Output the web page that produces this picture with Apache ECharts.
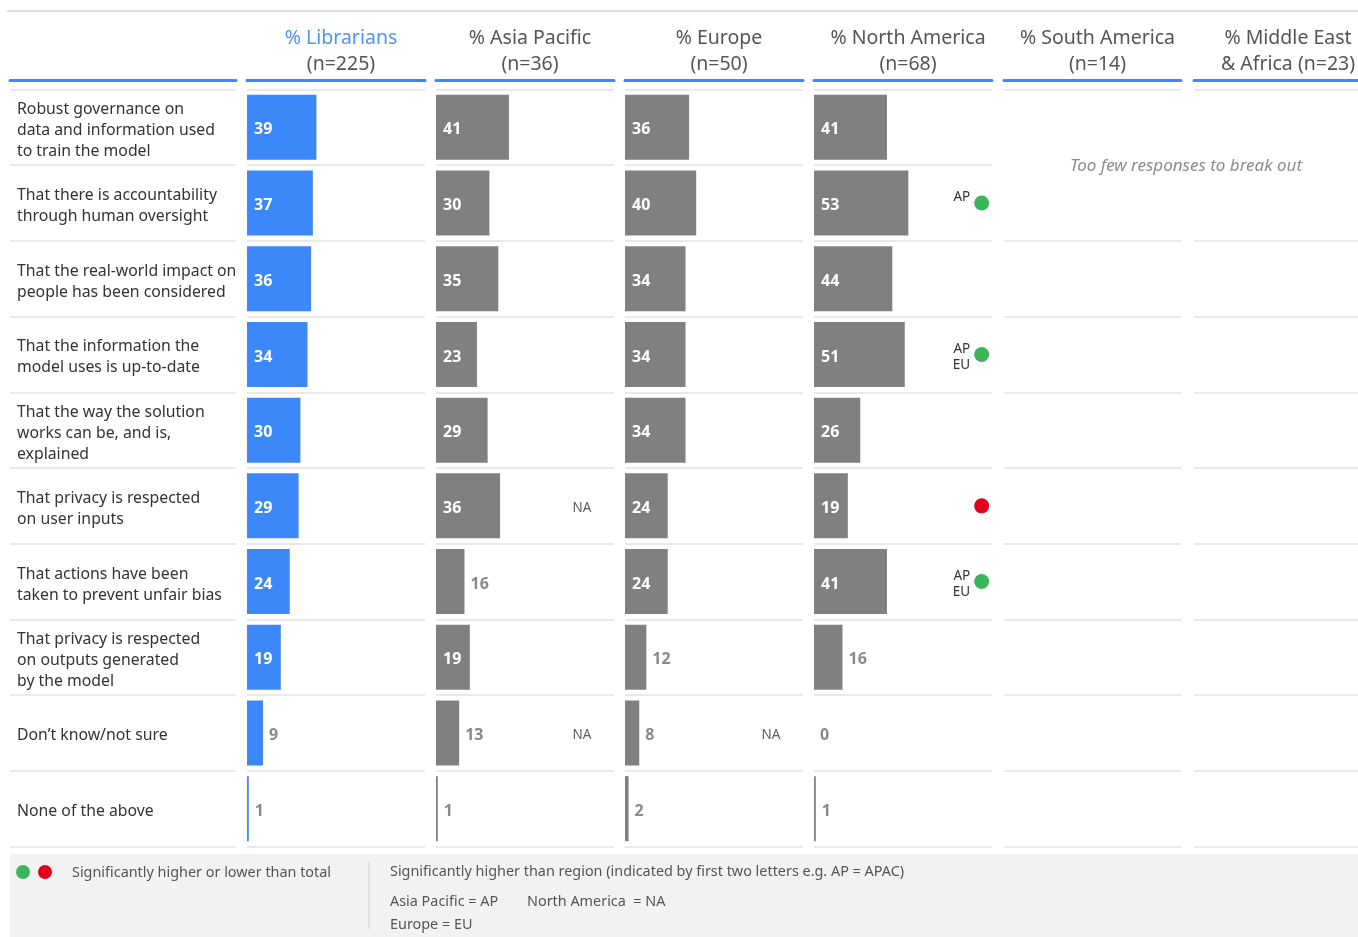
<!DOCTYPE html>
<html>
<head>
<meta charset="utf-8">
<script src="https://cdn.jsdelivr.net/npm/echarts@6/dist/echarts.min.js"></script>
<style>html,body{margin:0;padding:0;background:#fff;}#c{width:1358px;height:937px;}</style>
</head>
<body>
<div id="c"></div>
<script>
// ---------- data ----------
const categories = [
  'Robust governance on\ndata and information used\nto train the model',
  'That there is accountability\nthrough human oversight',
  'That the real-world impact on\npeople has been considered',
  'That the information the\nmodel uses is up-to-date',
  'That the way the solution\nworks can be, and is,\nexplained',
  'That privacy is respected\non user inputs',
  'That actions have been\ntaken to prevent unfair bias',
  'That privacy is respected\non outputs generated\nby the model',
  'Don\u2019t know/not sure',
  'None of the above'
];
const headerLine1 = ['% Librarians', '% Asia Pacific', '% Europe', '% North America', '% South America', '% Middle East'];
const headerLine2 = ['(n=225)', '(n=36)', '(n=50)', '(n=68)', '(n=14)', '& Africa (n=23)'];

const librarians   = [39, 37, 36, 34, 30, 29, 24, 19, 9, 1];
const asiaPacific  = [41, 30, 35, 23, 29, 36, 16, 19, 13, 1];
const europe       = [36, 40, 34, 34, 34, 24, 24, 12, 8, 2];
const northAmerica = [41, 53, 44, 51, 26, 19, 41, 16, 0, 1];

// significance flags
const asiaRegionFlags   = ['', '', '', '', '', 'NA', '', '', 'NA', ''];
const europeRegionFlags = ['', '', '', '', '', '', '', '', 'NA', ''];
const naRegionFlags     = ['', 'AP', '', 'AP\nEU', '', '', 'AP\nEU', '', '', ''];
const naTotalSig        = ['', 'higher', '', 'higher', '', 'lower', 'higher', '', '', ''];

const tooFewText = 'Too few responses to break out';

// ---------- layout / style ----------
const FONT = '"Noto Sans", "Open Sans", sans-serif';
const BLUE = '#3d88f8';
const GRAY_BAR = '#808080';
const GREEN = '#3cb55a';
const RED = '#e4001c';
const SEP = '#e9e9e9';
const GRID_TOP = 89.5, GRID_H = 757;
const colLeft  = [247, 436, 625, 814, 1004, 1194];
const colWidth = [178, 178, 178, 178, 177, 178];
const DOT_X = 94.2;   // position (in % axis units) of significance dot
const NA_X = 82;      // position of region flag text

// grid 0: label column separators; grids 1-6: data columns; grid 7: label text
const grids = [{left: 10, top: GRID_TOP, width: 226, height: GRID_H}];
colLeft.forEach((l, i) => grids.push({left: l, top: GRID_TOP, width: colWidth[i], height: GRID_H}));
grids.push({left: 10, top: GRID_TOP + 3, width: 226, height: GRID_H});
const LABEL_GRID = grids.length - 1;

const xAxes = grids.map((g, i) => ({
  gridIndex: i, type: 'value', min: 0, max: 100, position: 'top', offset: 9,
  show: i !== LABEL_GRID,
  axisLine: {show: true, lineStyle: {color: BLUE, width: 3}},
  axisTick: {show: false}, axisLabel: {show: false}, splitLine: {show: false}
}));
const yAxes = grids.map((g, i) => ({
  gridIndex: i, type: 'category', inverse: true, data: categories,
  axisLine: {show: false}, axisTick: {show: false},
  axisLabel: {show: i === LABEL_GRID, inside: true, margin: 7, interval: 0, color: '#333',
              fontSize: 15.8, lineHeight: 21, fontFamily: FONT},
  splitLine: {show: i !== LABEL_GRID, interval: 0, lineStyle: {color: SEP, width: 2}}
}));

function barSeries(values, idx, color) {
  return {
    type: 'bar', xAxisIndex: idx, yAxisIndex: idx, barWidth: 65, silent: true,
    itemStyle: {color: color},
    data: values.map(v => ({
      value: v,
      label: v < 18
        ? {show: true, position: 'right', distance: 6, color: '#8a8a8a'}
        : {show: true, position: 'insideLeft', distance: 7, color: '#ffffff'}
    })),
    label: {show: true, fontSize: 16, fontWeight: 'bold', fontFamily: FONT, offset: [0, 2.5]}
  };
}

function flagTextSeries(flags, idx) {
  const data = [];
  flags.forEach((f, i) => { if (f) data.push({value: [NA_X, i], label: {formatter: f}}); });
  return {
    type: 'scatter', xAxisIndex: idx, yAxisIndex: idx, silent: true, symbolSize: 1,
    itemStyle: {color: 'rgba(0,0,0,0)'},
    label: {show: true, position: 'inside', offset: [0, 2], color: '#333', fontSize: 13.5, fontFamily: FONT},
    data: data
  };
}

const dotData = [];
naTotalSig.forEach((s, i) => {
  if (s) dotData.push({
    value: [DOT_X, i],
    itemStyle: {color: s === 'higher' ? GREEN : RED, opacity: 1},
    label: {show: !!naRegionFlags[i], formatter: naRegionFlags[i] || ''}
  });
});

const series = [
  barSeries(librarians, 1, BLUE),
  barSeries(asiaPacific, 2, GRAY_BAR),
  barSeries(europe, 3, GRAY_BAR),
  barSeries(northAmerica, 4, GRAY_BAR),
  flagTextSeries(asiaRegionFlags, 2),
  flagTextSeries(europeRegionFlags, 3),
  {
    type: 'scatter', xAxisIndex: 4, yAxisIndex: 4, silent: true, symbolSize: 15,
    itemStyle: {opacity: 1},
    label: {position: [-4, -6], align: 'right', verticalAlign: 'top', color: '#333',
            fontSize: 13.5, lineHeight: 16, fontFamily: FONT},
    data: dotData
  }
];

const titles = headerLine1.map((t, i) => ({
  text: '{a|' + t + '}\n{b|' + headerLine2[i] + '}',
  left: colLeft[i] + colWidth[i] / 2, top: 20, textAlign: 'center',
  textStyle: {
    fontWeight: 'normal',
    rich: {
      a: {fontSize: 19.5, lineHeight: 26, fontWeight: 'normal', color: i === 0 ? '#4f94f7' : '#555', fontFamily: FONT},
      b: {fontSize: 19.5, lineHeight: 26, fontWeight: 'normal', color: '#555', fontFamily: FONT}
    }
  }
}));

const legendFont = {fontSize: 14.4, fill: '#555', fontFamily: FONT};
const graphic = [
  {type: 'line', shape: {x1: 7, y1: 11, x2: 1358, y2: 11}, style: {stroke: '#d6d6d6', lineWidth: 1.5}, silent: true},
  {type: 'rect', shape: {x: 1000, y: 162, width: 358, height: 7}, style: {fill: '#ffffff'}, silent: true, z: 10},
  {type: 'text', x: 1186, y: 166.5, z: 11, style: {text: tooFewText, fontSize: 17, fontStyle: 'italic', fill: '#8c8c8c',
    fontFamily: FONT, align: 'center', verticalAlign: 'middle'}, silent: true},
  {type: 'rect', shape: {x: 10, y: 854, width: 1348, height: 83}, style: {fill: '#f2f2f2'}, silent: true},
  {type: 'circle', shape: {cx: 23, cy: 872, r: 7}, style: {fill: GREEN}, silent: true},
  {type: 'circle', shape: {cx: 45, cy: 872, r: 7}, style: {fill: RED}, silent: true},
  {type: 'text', x: 72, y: 873, style: Object.assign({text: 'Significantly higher or lower than total', verticalAlign: 'middle'}, legendFont), silent: true},
  {type: 'line', shape: {x1: 369, y1: 862, x2: 369, y2: 929}, style: {stroke: '#cfcfcf', lineWidth: 1}, silent: true},
  {type: 'text', x: 390, y: 872, style: Object.assign({text: 'Significantly higher than region (indicated by first two letters e.g. AP = APAC)', verticalAlign: 'middle'}, legendFont), silent: true},
  {type: 'text', x: 390, y: 902, style: Object.assign({text: 'Asia Pacific = AP', verticalAlign: 'middle'}, legendFont), silent: true},
  {type: 'text', x: 527, y: 902, style: Object.assign({text: 'North America  = NA', verticalAlign: 'middle'}, legendFont), silent: true},
  {type: 'text', x: 390, y: 925, style: Object.assign({text: 'Europe = EU', verticalAlign: 'middle'}, legendFont), silent: true}
];

const chart = echarts.init(document.getElementById('c'), null, {renderer: 'canvas'});
chart.setOption({
  backgroundColor: '#ffffff',
  animation: false,
  title: titles,
  grid: grids,
  xAxis: xAxes,
  yAxis: yAxes,
  series: series,
  graphic: graphic
});
</script>
</body>
</html>
